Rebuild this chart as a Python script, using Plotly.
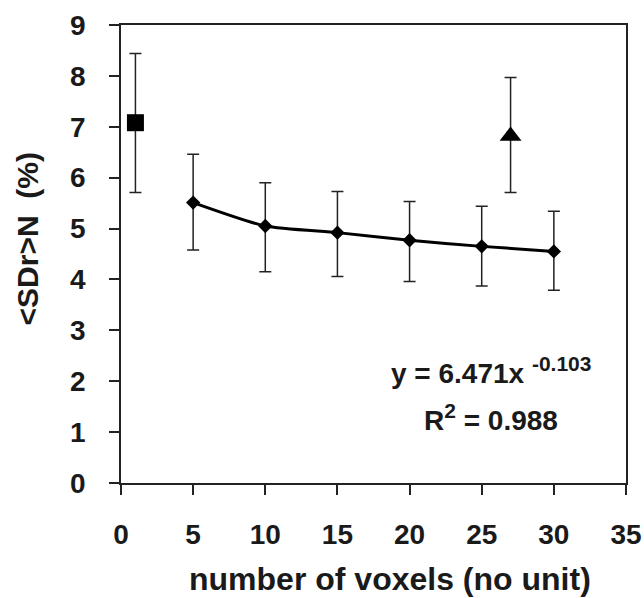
import plotly.graph_objects as go

# Data
x_fit = [5, 10, 15, 20, 25, 30]
y_fit = [5.51, 5.05, 4.92, 4.77, 4.65, 4.55]
err_fit_plus = [0.95, 0.85, 0.81, 0.76, 0.79, 0.79]
err_fit_minus = [0.93, 0.90, 0.86, 0.81, 0.78, 0.76]

x_square = [1]
y_square = [7.08]
err_square_plus = [1.36]
err_square_minus = [1.37]

x_tri = [27]
y_tri = [6.82]
err_tri_plus = [1.15]
err_tri_minus = [1.11]

x_ticks = [0, 5, 10, 15, 20, 25, 30, 35]
y_ticks = [0, 1, 2, 3, 4, 5, 6, 7, 8, 9]

eq_text = "y = 6.471x <sup><span style='font-size:21px'>-0.103</span></sup>"
r2_text = "R<sup><span style='font-size:21px'>2</span></sup> = 0.988"
x_title = "number of voxels (no unit)"
y_title = "&lt;SDr&gt;N&nbsp; (%)"

FONT = "Liberation Sans, Arial, sans-serif"
TXT = "#1a1a1a"
ERR_COLOR = "#222222"

fig = go.Figure()

# trend line through fitted series
fig.add_trace(go.Scatter(
    x=x_fit, y=y_fit, mode="lines",
    line=dict(color="black", width=3, shape="spline", smoothing=0.6),
    hoverinfo="skip", showlegend=False,
))

fig.add_trace(go.Scatter(
    x=x_fit, y=y_fit, mode="markers",
    marker=dict(symbol="diamond", size=11, color="black"),
    error_y=dict(type="data", array=err_fit_plus, arrayminus=err_fit_minus,
                 color=ERR_COLOR, thickness=1.5, width=6),
    showlegend=False,
))

fig.add_trace(go.Scatter(
    x=x_square, y=y_square, mode="markers",
    marker=dict(symbol="square", size=17, color="black"),
    error_y=dict(type="data", array=err_square_plus, arrayminus=err_square_minus,
                 color=ERR_COLOR, thickness=1.5, width=6),
    showlegend=False,
))

fig.add_trace(go.Scatter(
    x=x_tri, y=y_tri, mode="markers",
    marker=dict(symbol="triangle-up", size=19, color="black"),
    error_y=dict(type="data", array=err_tri_plus, arrayminus=err_tri_minus,
                 color=ERR_COLOR, thickness=1.5, width=6),
    showlegend=False,
))

ann_font = dict(family=FONT, size=28, color=TXT, weight="bold")
fig.add_annotation(x=25.65, y=2.22, xref="x", yref="y", text=eq_text,
                   showarrow=False, font=ann_font)
fig.add_annotation(x=25.65, y=1.28, xref="x", yref="y", text=r2_text,
                   showarrow=False, font=ann_font)

fig.add_annotation(x=0.533, y=-0.21, xref="paper", yref="paper", text=x_title,
                   showarrow=False,
                   font=dict(family=FONT, size=32, color=TXT, weight="bold"),
                   xanchor="center", yanchor="middle")
fig.add_annotation(x=-0.186, y=0.532, xref="paper", yref="paper", text=y_title,
                   showarrow=False,
                   font=dict(family=FONT, size=30, color=TXT, weight="bold"),
                   textangle=-90, xanchor="center", yanchor="middle")

axis_common = dict(
    showgrid=False, zeroline=False, automargin=False,
    showline=True, linecolor="#222222", linewidth=1.5, mirror=True,
    ticks="outside", ticklen=10, tickwidth=1.5, tickcolor="#222222",
    tickfont=dict(family=FONT, size=28, color=TXT, weight="bold"),
)

fig.update_xaxes(
    range=[0, 35], tickvals=x_ticks, ticktext=[str(v) for v in x_ticks],
    ticklabelstandoff=16,
    **axis_common,
)
fig.update_yaxes(
    range=[0, 9], tickvals=y_ticks, ticktext=[str(v) for v in y_ticks],
    ticklabelstandoff=18,
    **axis_common,
)

fig.update_layout(
    width=644, height=598,
    margin=dict(l=121, r=18, t=25, b=115),
    plot_bgcolor="white", paper_bgcolor="white",
)

fig.write_html("out.html")
